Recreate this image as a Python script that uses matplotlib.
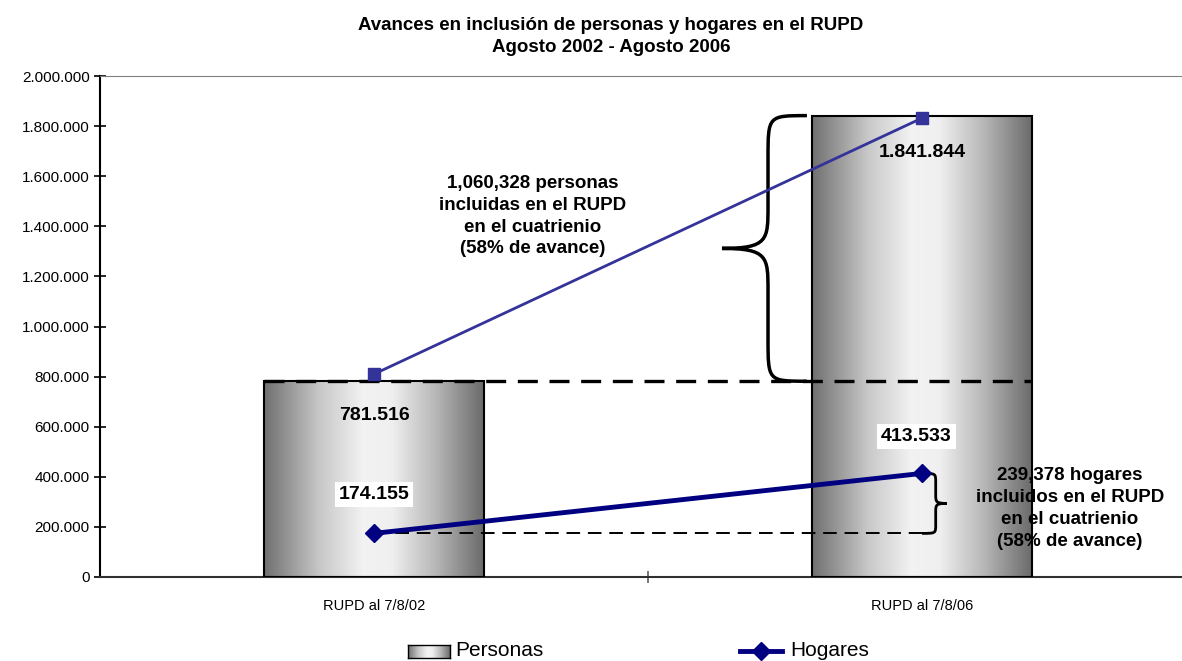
import numpy as np
import matplotlib
matplotlib.use("Agg")
import matplotlib.pyplot as plt
from matplotlib.colors import LinearSegmentedColormap
from matplotlib.path import Path
from matplotlib.patches import PathPatch
from matplotlib.lines import Line2D

plt.rcParams['font.family'] = ['Liberation Sans', 'DejaVu Sans']

# data
categorias = ["RUPD al 7/8/02", "RUPD al 7/8/06"]
personas = [781516, 1841844]
hogares = [174155, 413533]
personas_labels = ["781.516", "1.841.844"]
hogares_labels = ["174.155", "413.533"]
flecha_personas = [810000, 1832000]   # drawn line over the bars
texto_personas = "1,060,328 personas\nincluidas en el RUPD\nen el cuatrienio\n(58% de avance)"
texto_hogares = "239,378 hogares\nincluidos en el RUPD\nen el cuatrienio\n(58% de avance)"

fig = plt.figure(figsize=(11.82, 6.61), dpi=100)
ax = fig.add_axes([100/1182, 84/661, 1096/1182, 501/661])

x = np.arange(len(categorias))

# gray cylinder gradient
cmap = LinearSegmentedColormap.from_list("cyl", [
    (0.0, (0.44, 0.44, 0.44)), (0.25, (0.78, 0.78, 0.78)),
    (0.45, (0.95, 0.95, 0.95)), (0.58, (0.94, 0.94, 0.94)),
    (0.78, (0.72, 0.72, 0.72)), (1.0, (0.42, 0.42, 0.42))])
grad = np.linspace(0, 1, 256).reshape(1, -1)

bars = ax.bar(x, personas, width=0.4, facecolor='none', edgecolor='black', linewidth=1.5, zorder=3)
for b in bars:
    im = ax.imshow(grad, cmap=cmap, aspect='auto', zorder=2,
                   extent=[b.get_x(), b.get_x() + b.get_width(), 0, b.get_height()])
    im.set_clip_path(b)
ax.set_xlim(-0.5, 1.5)
ax.set_ylim(0, 2000000)

# dashed reference lines
ax.plot([-0.2, 1.2], [personas[0], personas[0]], color='black', lw=2.4, dashes=(6, 3.5), zorder=4)
ax.plot([0, 1.02], [hogares[0], hogares[0]], color='black', lw=1.4, dashes=(7, 4), zorder=4)

# braces
def brace(x_end, x_s, x_t, y0, y1, r, lw):
    ym = (y0 + y1) / 2
    verts = [(x_end, y1), (x_s, y1), (x_s, y1), (x_s, y1 - r),
             (x_s, ym + r),
             (x_s, ym + r * 0.2), (x_s, ym), (x_t, ym),
             (x_s, ym), (x_s, ym - r * 0.2), (x_s, ym - r),
             (x_s, y0 + r),
             (x_s, y0), (x_s, y0), (x_end, y0)]
    codes = [Path.MOVETO, Path.CURVE4, Path.CURVE4, Path.CURVE4,
             Path.LINETO,
             Path.CURVE4, Path.CURVE4, Path.CURVE4,
             Path.CURVE4, Path.CURVE4, Path.CURVE4,
             Path.LINETO,
             Path.CURVE4, Path.CURVE4, Path.CURVE4]
    ax.add_patch(PathPatch(Path(verts, codes), fill=False, edgecolor='black', lw=lw, zorder=5))

brace(0.79, 0.719, 0.635, personas[0], personas[1], 170000, 2.5)
brace(1.0, 1.025, 1.045, hogares[0], hogares[1], 35000, 2.0)

# lines
ax.plot(x, flecha_personas, color='#333399', lw=2, marker='s', markersize=8, zorder=6)
ax.plot(x, hogares, color='#000080', lw=3.5, marker='D', markersize=9, zorder=6)

# labels
ax.text(x[0], 645000, personas_labels[0], ha='center', va='center', fontsize=14, fontweight='bold', zorder=7)
ax.text(x[1], 1695000, personas_labels[1], ha='center', va='center', fontsize=14, fontweight='bold', zorder=7)
ax.text(x[0], 330000, hogares_labels[0], ha='center', va='center', fontsize=14, fontweight='bold', zorder=7,
        bbox=dict(facecolor='white', edgecolor='none', pad=3))
ax.text(x[1] - 0.01, 560000, hogares_labels[1], ha='center', va='center', fontsize=14, fontweight='bold', zorder=7,
        bbox=dict(facecolor='white', edgecolor='none', pad=3))
ax.text(0.29, 1440000, texto_personas, ha='center', va='center', fontsize=13.5, fontweight='bold',
        linespacing=1.35, zorder=7)
ax.text(1.27, 272000, texto_hogares, ha='center', va='center', fontsize=13.5, fontweight='bold',
        linespacing=1.38, zorder=7)

# axes styling
ax.spines['right'].set_visible(False)
ax.spines['top'].set_color('#808080')
ax.spines['left'].set_linewidth(1.5)
ax.spines['bottom'].set_color('#303030')
ax.spines['bottom'].set_linewidth(1.5)
ax.set_yticks(np.arange(0, 2000001, 200000))
ax.set_yticklabels(['{:,.0f}'.format(v).replace(',', '.') for v in np.arange(0, 2000001, 200000)], fontsize=11)
ax.tick_params(axis='y', direction='inout', length=8, width=1.2)
ax.set_xticks([0.5])
ax.set_xticklabels([])
ax.tick_params(axis='x', direction='inout', length=8, width=1.2, color='#606060')
ax.set_xticks(x, minor=True)
ax.set_xticklabels(categorias, minor=True, fontsize=10.5)
ax.tick_params(axis='x', which='minor', length=0, pad=16)

# title
fig.text(611/1182, 1 - 25/661, "Avances en inclusión de personas y hogares en el RUPD",
         ha='center', va='center', fontsize=13.5, fontweight='bold')
fig.text(611/1182, 1 - 47/661, "Agosto 2002 - Agosto 2006",
         ha='center', va='center', fontsize=13.5, fontweight='bold')

# legend
lax = fig.add_axes([408/1182, 3/661, 42/1182, 13/661])
lax.imshow(grad, cmap=cmap, aspect='auto')
lax.set_xticks([])
lax.set_yticks([])
for s in lax.spines.values():
    s.set_linewidth(1)
fig.text(455/1182, 1 - 651/661, "Personas", ha='left', va='center', fontsize=15)
fig.add_artist(Line2D([740/1182, 782/1182], [1 - 651/661] * 2, color='#000080', lw=3.5,
                      transform=fig.transFigure))
fig.add_artist(Line2D([761/1182], [1 - 651/661], color='#000080', marker='D', markersize=9,
                      transform=fig.transFigure))
fig.text(790/1182, 1 - 651/661, "Hogares", ha='left', va='center', fontsize=15)

fig.savefig("out.png", dpi=100)
